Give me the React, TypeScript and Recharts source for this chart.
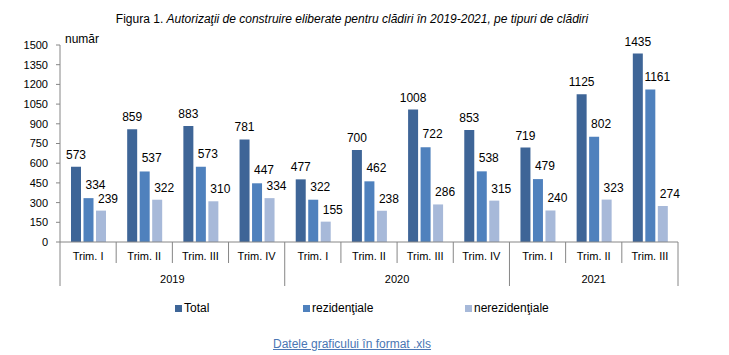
import React from 'react';
import { BarChart, Bar, XAxis, YAxis, LabelList } from 'recharts';

const categories = ['2019 Trim. I', '2019 Trim. II', '2019 Trim. III', '2019 Trim. IV', '2020 Trim. I', '2020 Trim. II', '2020 Trim. III', '2020 Trim. IV', '2021 Trim. I', '2021 Trim. II', '2021 Trim. III'];
const quarterLabels = ['Trim. I', 'Trim. II', 'Trim. III', 'Trim. IV', 'Trim. I', 'Trim. II', 'Trim. III', 'Trim. IV', 'Trim. I', 'Trim. II', 'Trim. III'];
const yearLabels = ['2019', '2020', '2021'];
const yearCounts = [4, 4, 3];
const total = [573, 859, 883, 781, 477, 700, 1008, 853, 719, 1125, 1435];
const rezidentiale = [334, 537, 573, 447, 322, 462, 722, 538, 479, 802, 1161];
const nerezidentiale = [239, 322, 310, 334, 155, 238, 286, 315, 240, 323, 274];
const yTicks = [0, 150, 300, 450, 600, 750, 900, 1050, 1200, 1350, 1500];

const seriesNames = ['Total', 'rezidenţiale', 'nerezidenţiale'];
const colors = ['#3E6597', '#4F81BD', '#A7B9D9'];

const data = categories.map((c, i) => ({
  cat: c,
  total: total[i],
  rez: rezidentiale[i],
  nerez: nerezidentiale[i],
}));

const W = 729;
const H = 355;
const PLOT_LEFT = 60;
const PLOT_RIGHT = 678;
const PLOT_TOP = 45;
const PLOT_BOTTOM = 242;
const X_AXIS_H = 60;
const PLOT_W = PLOT_RIGHT - PLOT_LEFT;
const FONT = '"Liberation Sans", Arial, sans-serif';
const AXIS_COLOR = '#868686';

const yearStarts: number[] = [];
{
  let acc = 0;
  yearCounts.forEach((c) => {
    yearStarts.push(acc);
    acc += c;
  });
}

function XTick(props: any) {
  const { x, y, index } = props;
  const n = categories.length;
  const bw = PLOT_W / n;
  const left = x - bw / 2;
  const yi = yearStarts.indexOf(index);
  const startsYear = yi >= 0;
  return (
    <g>
      <text x={x} y={y + 18} textAnchor="middle" fontSize={11} fontFamily={FONT} fill="#000">
        {quarterLabels[index]}
      </text>
      <line x1={left} x2={left} y1={y} y2={y + (startsYear ? 44 : 21)} stroke={AXIS_COLOR} strokeWidth={1} />
      {index === n - 1 && (
        <line x1={left + bw} x2={left + bw} y1={y} y2={y + 44} stroke={AXIS_COLOR} strokeWidth={1} />
      )}
      {startsYear && (
        <text x={left + (yearCounts[yi] * bw) / 2} y={y + 41} textAnchor="middle" fontSize={11} fontFamily={FONT} fill="#000">
          {yearLabels[yi]}
        </text>
      )}
    </g>
  );
}

function makeLabel(dx: number, gap: number) {
  return (props: any) => {
    const { x, y, width, value } = props;
    return (
      <text
        x={Number(x) + Number(width) / 2 + dx}
        y={Number(y) - gap}
        textAnchor="middle"
        fontSize={12}
        fontFamily={FONT}
        fill="#000"
      >
        {value}
      </text>
    );
  };
}

const legendX = [175, 303, 465];

function LegendBlock() {
  return (
    <div style={{ position: 'absolute', left: 0, top: 300, width: W, height: 16 }}>
      {seriesNames.map((name, i) => (
        <div
          key={name}
          style={{
            position: 'absolute',
            left: legendX[i],
            top: 0,
            display: 'flex',
            alignItems: 'center',
            fontFamily: FONT,
            fontSize: 12,
            color: '#000',
            whiteSpace: 'nowrap',
            lineHeight: '16px',
          }}
        >
          <span style={{ display: 'inline-block', width: 7, height: 7, background: colors[i], marginRight: 2 }} />
          {name}
        </div>
      ))}
    </div>
  );
}

export default function App() {
  return (
    <div style={{ position: 'fixed', left: 0, top: 0, width: W, height: H, background: '#fff' }}>
      <div
        style={{
          position: 'absolute',
          left: 0,
          top: 12,
          width: 704,
          textAlign: 'center',
          fontFamily: FONT,
          fontSize: 12,
          color: '#000',
          whiteSpace: 'nowrap',
        }}
      >
        Figura 1. <i>Autorizaţii de construire eliberate pentru clădiri în 2019-2021, pe tipuri de clădiri</i>
      </div>
      <div
        style={{
          position: 'absolute',
          left: 65,
          top: 32,
          fontFamily: FONT,
          fontSize: 12,
          color: '#000',
        }}
      >
        număr
      </div>
      <BarChart
        width={W}
        height={H}
        data={data}
        margin={{ top: PLOT_TOP, right: W - PLOT_RIGHT, bottom: H - PLOT_BOTTOM - X_AXIS_H, left: 0 }}
        barSize={10}
        barGap={2.5}
        style={{ position: 'absolute', left: 0, top: 0 }}
      >
        <XAxis
          dataKey="cat"
          axisLine={{ stroke: AXIS_COLOR }}
          tickLine={false}
          tickSize={0}
          tickMargin={0}
          interval={0}
          tick={<XTick />}
          height={X_AXIS_H}
        />
        <YAxis
          width={PLOT_LEFT}
          domain={[0, 1500]}
          ticks={yTicks}
          interval={0}
          axisLine={{ stroke: AXIS_COLOR }}
          tickLine={{ stroke: AXIS_COLOR }}
          tickSize={4}
          tickMargin={8}
          tick={{ fontSize: 11, fontFamily: FONT, fill: '#000' }}
        />
        <Bar dataKey="total" name={seriesNames[0]} fill={colors[0]} isAnimationActive={false}>
          <LabelList dataKey="total" content={makeLabel(0, 8)} />
        </Bar>
        <Bar dataKey="rez" name={seriesNames[1]} fill={colors[1]} isAnimationActive={false}>
          <LabelList dataKey="rez" content={makeLabel(7, 9)} />
        </Bar>
        <Bar dataKey="nerez" name={seriesNames[2]} fill={colors[2]} isAnimationActive={false}>
          <LabelList dataKey="nerez" content={makeLabel(7, 8)} />
        </Bar>
      </BarChart>
      <LegendBlock />
      <div
        style={{
          position: 'absolute',
          left: 0,
          top: 337,
          width: 704,
          textAlign: 'center',
          fontFamily: FONT,
          fontSize: 12,
        }}
      >
        <a href="#" style={{ color: '#4A76B4', textDecoration: 'underline' }}>
          Datele graficului în format .xls
        </a>
      </div>
    </div>
  );
}
